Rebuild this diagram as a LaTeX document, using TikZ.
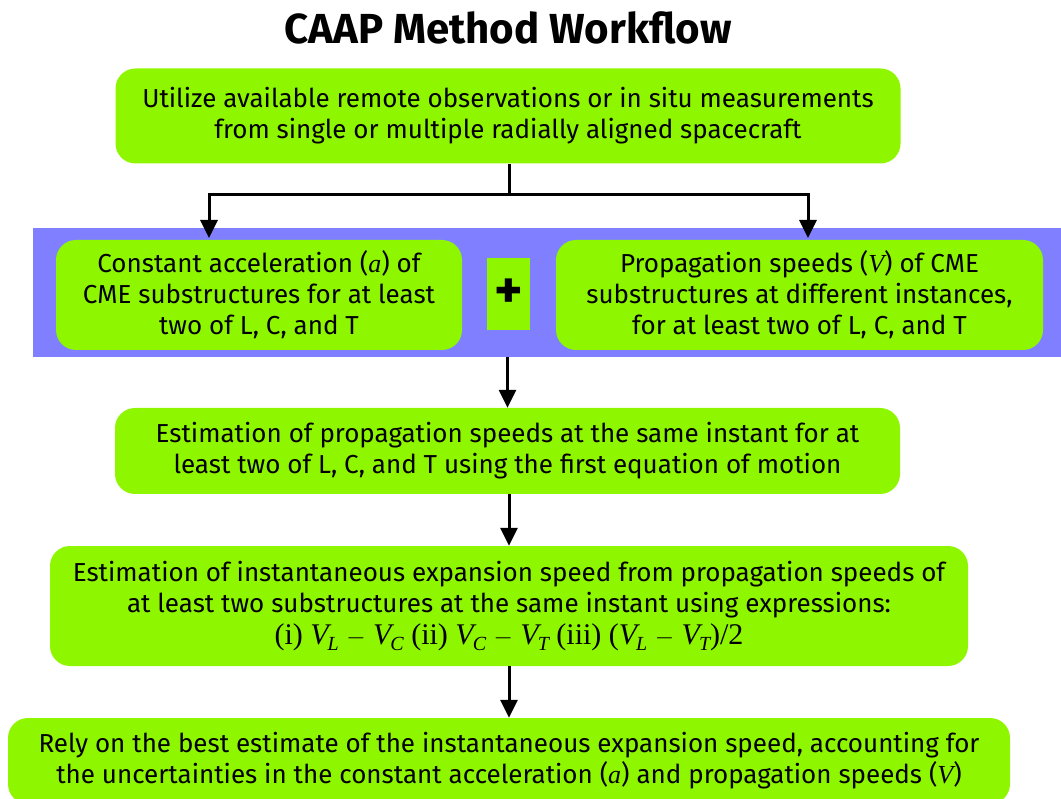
\documentclass[tikz,border=0pt]{standalone}
\usepackage{fontspec}
\setmainfont{Fira Sans}
\newfontfamily\serifeq{Liberation Serif}
\usetikzlibrary{arrows.meta}
\definecolor{boxgreen}{HTML}{8EF700}
\definecolor{bandblue}{HTML}{7F7FFF}
\newcommand{\ita}[1]{{\serifeq\itshape #1}}
\newcommand{\Vsub}[1]{{\itshape V\kern-1pt\raisebox{-6pt}{\fontsize{20}{20}\selectfont #1}}}
\begin{document}
\begin{tikzpicture}[x=1pt,y=-1pt,
  stepbox/.style={fill=boxgreen, rounded corners=20pt, align=center, inner sep=0pt,
    font=\fontsize{26}{31}\selectfont},
  conn/.style={line width=3pt, -{Triangle[width=17pt,length=18pt]}},
  plain/.style={line width=3pt}]
\useasboundingbox (0,0) rectangle (1061,799);
\clip (0,0) rectangle (1061,799);
\node[font=\bfseries\fontsize{42}{46}\selectfont] (title) at (508,28) {CAAP Method Workflow};
\node[stepbox, minimum width=785pt, minimum height=95pt] (b1) at (508,116)
  {Utilize available remote observations or in situ measurements\\from single or multiple radially aligned spacecraft};
\node[fill=bandblue, minimum width=1028pt, minimum height=129pt, inner sep=0pt] (band) at (547,292.5) {};
\node[stepbox, minimum width=406pt, minimum height=110pt] (left) at (259,295)
  {Constant acceleration (\ita{a}) of\\CME substructures for at least\\two of L, C, and T};
\node[fill=boxgreen, minimum width=43pt, minimum height=72pt, inner sep=0pt,
  font=\fontsize{54}{54}\selectfont\bfseries] (plus) at (508.5,294) {+};
\node[stepbox, minimum width=487pt, minimum height=110pt] (right) at (799.5,295)
  {Propagation speeds (\ita{V}) of CME\\substructures at different instances,\\for at least two of L, C, and T};
\node[stepbox, minimum width=785pt, minimum height=86pt] (b3) at (507.5,451)
  {Estimation of propagation speeds at the same instant for at\\least two of L, C, and T using the first equation of motion};
\node[stepbox, minimum width=918pt, minimum height=120pt] (b4) at (509,606)
  {Estimation of instantaneous expansion speed from propagation speeds of\\at least two substructures at the same instant using expressions:\\[1pt]
   {\serifeq\fontsize{30}{31}\selectfont (i) \Vsub{L} $-$ \Vsub{C} (ii) \Vsub{C} $-$ \Vsub{T} (iii) (\Vsub{L} $-$ \Vsub{T})/2}};
\node[stepbox, minimum width=1002pt, minimum height=86pt] (b5) at (509,761)
  {Rely on the best estimate of the instantaneous expansion speed, accounting for\\the uncertainties in the constant acceleration (\ita{a}) and propagation speeds (\ita{V})};
\coordinate (split) at (509,195);
\coordinate (ta) at (209,238);
\coordinate (tb) at (808,238);
\draw[plain] (b1.south -| split) -- (split);
\draw[conn] (split) -| (ta);
\draw[conn] (split) -| (tb);
\draw[conn] (band.south -| b3.north) -- (b3.north);
\draw[conn] (b3.south -| b4.north) -- (b4.north);
\draw[conn] (b4.south -| b5.north) -- (b5.north);
\end{tikzpicture}
\end{document}
